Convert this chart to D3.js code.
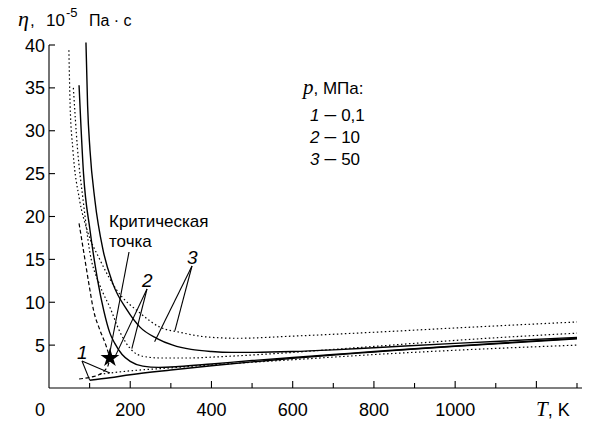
<!DOCTYPE html>
<html>
<head>
<meta charset="utf-8">
<script src="https://cdnjs.cloudflare.com/ajax/libs/d3/7.8.5/d3.min.js"></script>
<style>
  body { margin: 0; background: #fff; }
  text { font-family: "Liberation Sans", Arial, Helvetica, sans-serif; fill: #000; }
  .it { font-style: italic; }
  .math { font-family: "Liberation Serif", "DejaVu Serif", serif; font-style: italic; }
  .sol { fill: none; stroke: #000; stroke-width: 1.4; }
  .dot { fill: none; stroke: #000; stroke-width: 1.2; stroke-dasharray: 1.5, 2.5; }
  .dash { fill: none; stroke: #000; stroke-width: 1.2; stroke-dasharray: 4, 2.5; }
  .lead { stroke: #000; stroke-width: 1.1; }
</style>
</head>
<body>
<script>
// T, K ; eta, 10^-5 Pa*s
var solid1 = [[100,0.9],[150,1.2],[200,1.55],[300,2.1],[400,2.6],[500,3.05],[600,3.45],[700,3.85],[800,4.2],[900,4.55],[1000,4.85],[1100,5.15],[1200,5.45],[1300,5.75]];
var solid2 = [[74,35.3],[85,25],[101,18.4],[120,12.5],[135,9],[150,6.4],[162,5.2],[180,3.9],[200,3.1],[231,2.55],[270,2.4],[320,2.5],[400,2.8],[500,3.2],[600,3.55],[700,3.9],[800,4.25],[1000,4.9],[1300,5.8]];
var solid3 = [[91,40.3],[95,33],[101,27.7],[113,21.9],[133,16.1],[157,12.2],[192,9.1],[224,7.1],[265,5.8],[305,5.0],[350,4.5],[400,4.25],[450,4.15],[500,4.15],[600,4.25],[700,4.45],[800,4.7],[1000,5.2],[1300,5.9]];
var dotted1 = [[125,1.6],[150,1.75],[200,2.0],[300,2.35],[400,2.7],[500,3.0],[600,3.3],[700,3.6],[800,3.9],[1000,4.4],[1300,5.0]];
var dotted2 = [[60,35],[70,28],[84,21.9],[100,16],[125,12],[150,9.4],[175,6.5],[204,4.4],[231,3.7],[273,3.5],[350,3.5],[400,3.6],[500,3.85],[600,4.15],[700,4.5],[800,4.85],[1000,5.55],[1300,6.4]];
var dotted3 = [[49,39.4],[52,33],[59,27.7],[75,22],[94,18.4],[126,14.9],[167,11.4],[224,8.75],[273,7.1],[322,6.5],[389,5.95],[463,5.8],[600,6.05],[800,6.5],[1000,7.0],[1300,7.7]];
var satLiquid = [[74,19.2],[85,16],[98,12.2],[110,9],[125,6.8],[140,5],[150,3.5]];
var satVapor = [[74,1.05],[100,1.25],[125,1.6],[138,2.1],[146,2.7],[150,3.5]];
var critical = [150, 3.5];

var xMajor = [200, 400, 600, 800, 1000];
var xMinor = [100, 300, 500, 700, 900, 1100, 1300];
var xLong = [200, 400, 600, 800, 1000, 1200];
var yTicks = [5, 10, 15, 20, 25, 30, 35, 40];
var legend = [["1", "0,1"], ["2", "10"], ["3", "50"]];

var width = 590, height = 421;
var x = d3.scaleLinear().domain([0, 1300]).range([49, 577]);
var y = d3.scaleLinear().domain([0, 40]).range([388, 45]);

var svg = d3.select("body").append("svg")
  .attr("width", width)
  .attr("height", height);

var line = d3.line()
  .curve(d3.curveMonotoneX)
  .x(function(d) { return x(d[0]); })
  .y(function(d) { return y(d[1]); });

//axes
svg.append("line").attr("class", "lead").attr("stroke-width", 1.6)
  .attr("x1", x(0)).attr("x2", x(0)).attr("y1", y(0)).attr("y2", y(40));
svg.append("line").attr("class", "lead").attr("stroke-width", 1.6)
  .attr("x1", x(0)).attr("x2", 582).attr("y1", y(0)).attr("y2", y(0));

svg.selectAll(".yt").data(yTicks).enter().append("line")
  .attr("class", "lead").attr("stroke-width", 1.4)
  .attr("x1", x(0)).attr("x2", x(0) + 6)
  .attr("y1", function(d) { return y(d); }).attr("y2", function(d) { return y(d); });
svg.selectAll(".yl").data(yTicks).enter().append("text")
  .attr("x", 45).attr("y", function(d) { return y(d) + 6.5; })
  .attr("text-anchor", "end").attr("font-size", 18)
  .text(function(d) { return d; });

svg.selectAll(".xt").data(xLong.concat(xMinor)).enter().append("line")
  .attr("class", "lead").attr("stroke-width", 1.4)
  .attr("x1", function(d) { return x(d); }).attr("x2", function(d) { return x(d); })
  .attr("y1", y(0))
  .attr("y2", function(d) { return y(0) - (xLong.indexOf(d) >= 0 ? 7 : 5); });
svg.selectAll(".xl").data(xMajor).enter().append("text")
  .attr("x", function(d) { return x(d); }).attr("y", 416)
  .attr("text-anchor", "middle").attr("font-size", 18)
  .text(function(d) { return d; });
svg.append("text").attr("x", 40).attr("y", 416)
  .attr("text-anchor", "middle").attr("font-size", 18).text("0");

var xt = svg.append("text").attr("x", 536).attr("y", 416).attr("font-size", 18);
xt.append("tspan").attr("class", "math").attr("font-size", 21).text("T");
xt.append("tspan").text(", K");

//y title
svg.append("text").attr("class", "math").attr("x", 18).attr("y", 26)
  .attr("font-size", 22).text("η");
svg.append("text").attr("x", 30).attr("y", 26).attr("font-size", 17).text(",");
svg.append("text").attr("x", 46).attr("y", 26).attr("font-size", 17).text("10");
svg.append("text").attr("x", 66).attr("y", 17).attr("font-size", 13).text("-5");
svg.append("text").attr("x", 89).attr("y", 26).attr("font-size", 16).text("Па · с");

//curves
[solid1, solid2, solid3].forEach(function(s) {
  svg.append("path").datum(s).attr("class", "sol").attr("d", line);
});
[dotted1, dotted2, dotted3].forEach(function(s) {
  svg.append("path").datum(s).attr("class", "dot").attr("d", line);
});
[satLiquid, satVapor].forEach(function(s) {
  svg.append("path").datum(s).attr("class", "dash").attr("d", line);
});

//critical point
svg.append("path")
  .attr("d", d3.symbol().type(d3.symbolStar).size(110))
  .attr("transform", "translate(" + x(critical[0]) + "," + y(critical[1]) + ")")
  .attr("fill", "#000");

//legend
var lg = svg.append("text").attr("x", 303).attr("y", 94).attr("font-size", 17);
lg.append("tspan").attr("class", "math").attr("font-size", 21).text("p");
lg.append("tspan").text(", МПа:");
legend.forEach(function(d, i) {
  var t = svg.append("text").attr("x", 310).attr("y", 121 + i * 22).attr("font-size", 17);
  t.append("tspan").attr("class", "it").text(d[0]);
  t.append("tspan").attr("font-size", 21).attr("dx", 5).text("\u2013");
  t.append("tspan").attr("dx", 5).text(d[1]);
});

//annotations
svg.append("text").attr("x", 109).attr("y", 227).attr("font-size", 17).text("Критическая");
svg.append("text").attr("x", 109).attr("y", 247).attr("font-size", 17).text("точка");
svg.append("line").attr("class", "lead")
  .attr("x1", 129).attr("y1", 252).attr("x2", x(critical[0])).attr("y2", y(critical[1]) - 6);

var labels = [
  {t: "1", x: 77, y: 359, to: [[100, 0.95], [150, 1.75]]},
  {t: "2", x: 142, y: 287, to: [[162, 3.6], [204, 4.6]]},
  {t: "3", x: 187, y: 264, to: [[260, 5.4], [310, 6.7]]}
];
labels.forEach(function(l) {
  svg.append("text").attr("class", "it").attr("x", l.x).attr("y", l.y)
    .attr("font-size", 19).text(l.t);
  l.to.forEach(function(p) {
    svg.append("line").attr("class", "lead")
      .attr("x1", l.x + 5).attr("y1", l.y + 2)
      .attr("x2", x(p[0])).attr("y2", y(p[1]));
  });
});
</script>
</body>
</html>
